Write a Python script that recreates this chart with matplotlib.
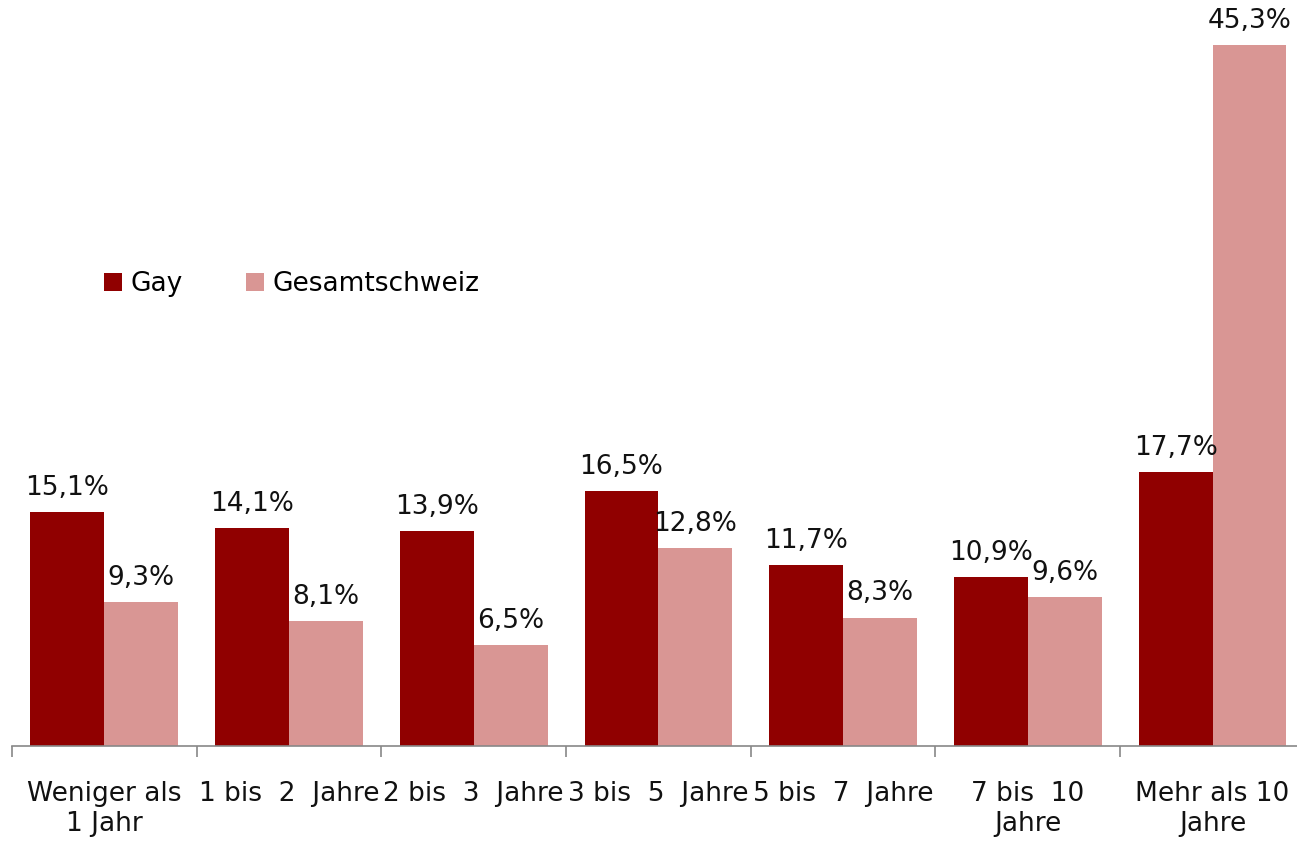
import matplotlib
matplotlib.use('Agg')
import matplotlib.pyplot as plt
import numpy as np

categories = ['Weniger als\n1 Jahr', '1 bis  2  Jahre', '2 bis  3  Jahre', '3 bis  5  Jahre',
              '5 bis  7  Jahre', '7 bis  10\nJahre', 'Mehr als 10\nJahre']
gay = [15.1, 14.1, 13.9, 16.5, 11.7, 10.9, 17.7]
gesamt = [9.3, 8.1, 6.5, 12.8, 8.3, 9.6, 45.3]
series_names = ['Gay', 'Gesamtschweiz']

c_gay = '#900000'
c_ges = '#D99694'

W, H = 1297, 842
fig = plt.figure(figsize=(W/100, H/100), dpi=100)
plt.rcParams['font.family'] = ['DejaVu Sans']
fs = 19

# axes placed in pixel terms: baseline y=746, first boundary x=12
px_per_unit = 701/45.3
ymax = 50
ax = fig.add_axes([12/W, (H-746)/H, 7*184.7/W, ymax*px_per_unit/H])

x = np.arange(len(categories))
w = 0.4
b1 = ax.bar(x - w/2, gay, w, color=c_gay, label=series_names[0])
b2 = ax.bar(x + w/2, gesamt, w, color=c_ges, label=series_names[1])

for bars in (b1, b2):
    for r in bars:
        v = r.get_height()
        ax.annotate(('%.1f%%' % v).replace('.', ','), (r.get_x() + r.get_width()/2, v),
                    xytext=(0, 8), textcoords='offset points', ha='center', va='bottom',
                    fontsize=fs, color='#111111')

ax.set_xlim(-0.5, len(categories) - 0.5)
ax.set_ylim(0, ymax)
for s in ['top', 'right', 'left']:
    ax.spines[s].set_visible(False)
ax.spines['bottom'].set_color('#888888')
ax.spines['bottom'].set_linewidth(1.2)
ax.set_yticks([])
ax.set_xticks(x)
ax.set_xticklabels(categories, fontsize=fs, linespacing=1.2)
ax.tick_params(axis='x', which='major', length=0, pad=25, colors='#111111')
ax.set_xticks(np.arange(-0.5, len(categories)), minor=True)
ax.tick_params(axis='x', which='minor', length=8, width=1.2, color='#888888')

fig.legend(handles=[b1, b2], labels=series_names, loc='center left',
           bbox_to_anchor=(80/W, 1 - 284/H), ncol=2, frameon=False, fontsize=fs,
           handlelength=0.7, handleheight=0.7, handletextpad=0.3, columnspacing=2.4)

fig.savefig('out.png', dpi=100)
